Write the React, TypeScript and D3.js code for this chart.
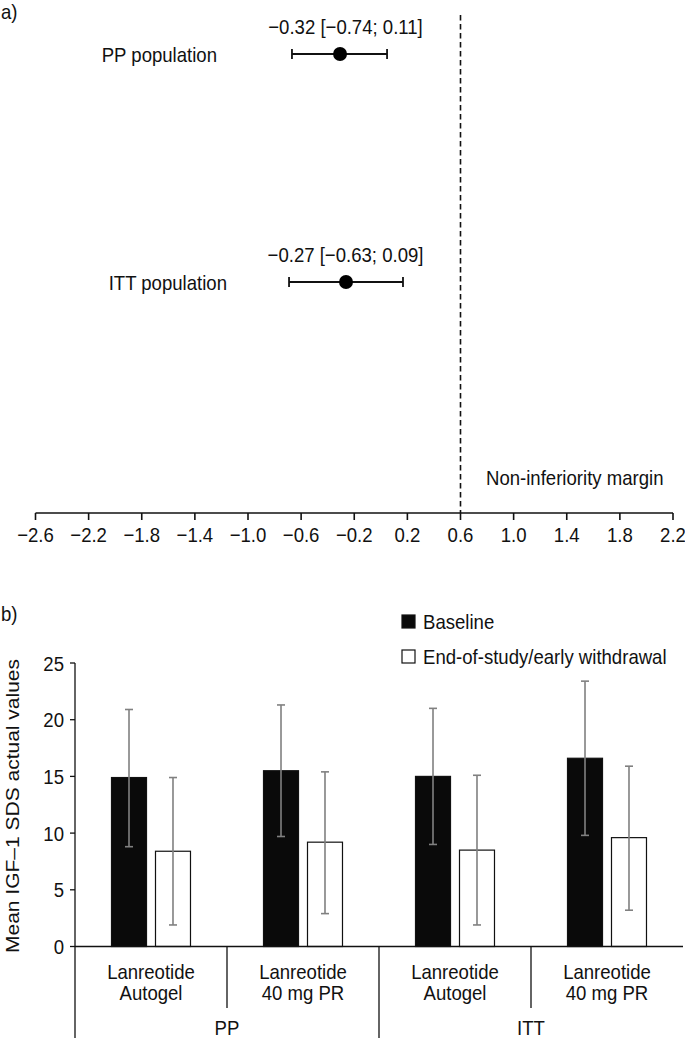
import React from "react";
import * as d3 from "d3";

// ---------- Panel a) forest plot data ----------
const forestLabels = ["PP population", "ITT population"];
const forestCITexts = ["\u22120.32 [\u22120.74; 0.11]", "\u22120.27 [\u22120.63; 0.09]"];
// positions
const forestEst = [-0.307, -0.262];
const forestLow = [-0.669, -0.691];
const forestHigh = [0.047, 0.167];
const forestTicks = [-2.6, -2.2, -1.8, -1.4, -1.0, -0.6, -0.2, 0.2, 0.6, 1.0, 1.4, 1.8, 2.2];
const nonInferiorityMargin = 0.6;

// ---------- Panel b) bar chart data ----------
const subCategories = [
  ["Lanreotide", "Autogel"],
  ["Lanreotide", "40 mg PR"],
  ["Lanreotide", "Autogel"],
  ["Lanreotide", "40 mg PR"],
];
const groups = ["PP", "ITT"];
const seriesNames = ["Baseline", "End-of-study/early withdrawal"];
const baselineMean = [14.9, 15.5, 15.0, 16.6];
const baselineHigh = [20.9, 21.3, 21.0, 23.4];
const baselineLow = [8.8, 9.7, 9.0, 9.8];
const endMean = [8.4, 9.2, 8.5, 9.6];
const endHigh = [14.9, 15.4, 15.1, 15.9];
const endLow = [1.9, 2.9, 1.9, 3.2];
const yTicks = [0, 5, 10, 15, 20, 25];

const FONT = "'Liberation Sans', Arial, Helvetica, sans-serif";
const FS = 21;
const SX = 0.885;

function T({ x, y, anchor = "start", children, size = FS, rotate = 0 }: any) {
  const tr = rotate
    ? `translate(${x},${y}) scale(${SX},1) rotate(${rotate})`
    : `translate(${x},${y}) scale(${SX},1)`;
  return (
    <text transform={tr} textAnchor={anchor} fontFamily={FONT} fontSize={size} fill="#111">
      {children}
    </text>
  );
}

export default function App() {
  const W = 685;
  const H = 1038;

  // forest scales
  const fx = d3.scaleLinear().domain([-2.6, 2.2]).range([35.5, 673]);
  const fy = d3.scaleLinear().domain([0, 1]).range([54, 282]);
  const axisY = 513;
  const labelRight = [217, 227];
  const ciTextX = 345.5;

  // bar scales
  const x0 = d3
    .scaleBand<number>()
    .domain(subCategories.map((_, i) => i))
    .range([75, 683])
    .paddingInner(0)
    .paddingOuter(0);
  const x1 = d3
    .scaleBand<string>()
    .domain(seriesNames)
    .range([0, x0.bandwidth()])
    .paddingInner(0.2045)
    .paddingOuter(0.83);
  const y = d3.scaleLinear().domain([0, 25]).range([946.5, 663]);
  const y0 = y(0);

  const series = [
    { name: seriesNames[0], mean: baselineMean, hi: baselineHigh, lo: baselineLow, fill: "#0a0a0a" },
    { name: seriesNames[1], mean: endMean, hi: endHigh, lo: endLow, fill: "#ffffff" },
  ];

  const capW = 4;

  return (
    <svg
      width={W}
      height={H}
      style={{ position: "absolute", left: 0, top: 0, background: "#fff" }}
    >
      <rect x={0} y={0} width={W} height={H} fill="#fff" />
      {/* ---------------- Panel a ---------------- */}
      <T x={1} y={19}>a)</T>
      {/* dashed margin line */}
      <line
        x1={fx(nonInferiorityMargin)}
        x2={fx(nonInferiorityMargin)}
        y1={15}
        y2={axisY}
        stroke="#111"
        strokeWidth={1.6}
        strokeDasharray="5.5,3.5"
      />
      <T x={486} y={485}>Non-inferiority margin</T>
      {/* axis */}
      <line x1={fx(-2.6)} x2={fx(2.2)} y1={axisY} y2={axisY} stroke="#111" strokeWidth={1.6} />
      {forestTicks.map((t) => (
        <g key={t}>
          <line x1={fx(t)} x2={fx(t)} y1={axisY} y2={axisY + 7} stroke="#111" strokeWidth={1.6} />
          <T x={fx(t)} y={542} anchor="middle">
            {(t < 0 ? "\u2212" : "") + Math.abs(t).toFixed(1)}
          </T>
        </g>
      ))}
      {forestLabels.map((lab, i) => {
        const yy = fy(i);
        return (
          <g key={lab}>
            <T x={labelRight[i]} y={yy + 7.5} anchor="end">{lab}</T>
            <T x={ciTextX} y={yy - 20} anchor="middle">{forestCITexts[i]}</T>
            <line x1={fx(forestLow[i])} x2={fx(forestHigh[i])} y1={yy} y2={yy} stroke="#111" strokeWidth={1.8} />
            <line x1={fx(forestLow[i])} x2={fx(forestLow[i])} y1={yy - 5} y2={yy + 5} stroke="#111" strokeWidth={1.8} />
            <line x1={fx(forestHigh[i])} x2={fx(forestHigh[i])} y1={yy - 5} y2={yy + 5} stroke="#111" strokeWidth={1.8} />
            <circle cx={fx(forestEst[i])} cy={yy} r={7} fill="#000" />
          </g>
        );
      })}

      {/* ---------------- Panel b ---------------- */}
      <T x={1} y={621}>b)</T>
      {/* legend */}
      {seriesNames.map((s, i) => (
        <g key={s}>
          <rect
            x={402}
            y={615 + i * 35}
            width={13}
            height={13}
            fill={i === 0 ? "#0a0a0a" : "#fff"}
            stroke="#111"
            strokeWidth={1.2}
          />
          <T x={423} y={629 + i * 35}>{s}</T>
        </g>
      ))}
      {/* y axis */}
      <line x1={75} x2={75} y1={y(25)} y2={H} stroke="#111" strokeWidth={1.3} />
      {yTicks.map((t) => (
        <g key={t}>
          <line x1={70} x2={75} y1={y(t)} y2={y(t)} stroke="#111" strokeWidth={1.3} />
          <T x={64} y={y(t) + 7.5} anchor="end">{String(t)}</T>
        </g>
      ))}
      <T x={19} y={806} anchor="middle" rotate={-90}>
        Mean IGF{"\u2013"}1 SDS actual values
      </T>
      {/* bars */}
      {subCategories.map((_, ci) =>
        series.map((s) => {
          const bx = (x0(ci) as number) + (x1(s.name) as number);
          const bw = x1.bandwidth();
          return (
            <rect
              key={ci + s.name}
              x={bx}
              y={y(s.mean[ci])}
              width={bw}
              height={y0 - y(s.mean[ci])}
              fill={s.fill}
              stroke="#111"
              strokeWidth={1.2}
            />
          );
        })
      )}
      {/* error bars */}
      {subCategories.map((_, ci) =>
        series.map((s) => {
          const cx = (x0(ci) as number) + (x1(s.name) as number) + x1.bandwidth() / 2;
          return (
            <g key={"e" + ci + s.name} stroke="#808080" strokeWidth={1.6}>
              <line x1={cx} x2={cx} y1={y(s.lo[ci])} y2={y(s.hi[ci])} />
              <line x1={cx - capW} x2={cx + capW} y1={y(s.hi[ci])} y2={y(s.hi[ci])} />
              <line x1={cx - capW} x2={cx + capW} y1={y(s.lo[ci])} y2={y(s.lo[ci])} />
            </g>
          );
        })
      )}
      {/* zero axis */}
      <line x1={75} x2={683} y1={y0} y2={y0} stroke="#111" strokeWidth={1.3} />
      {/* category dividers */}
      {subCategories.map((_, ci) =>
        ci > 0 ? (
          <line
            key={"d" + ci}
            x1={x0(ci) as number}
            x2={x0(ci) as number}
            y1={y0}
            y2={ci === 2 ? H : 1008}
            stroke="#111"
            strokeWidth={1.3}
          />
        ) : null
      )}
      {subCategories.map((lines, ci) => {
        const cx = (x0(ci) as number) + x0.bandwidth() / 2;
        return (
          <g key={"l" + ci}>
            <T x={cx} y={979} anchor="middle">{lines[0]}</T>
            <T x={cx} y={1000} anchor="middle">{lines[1]}</T>
          </g>
        );
      })}
      {groups.map((g, gi) => {
        const start = x0(gi * 2) as number;
        const end = (x0(gi * 2 + 1) as number) + x0.bandwidth();
        return (
          <T key={g} x={(start + end) / 2} y={1035} anchor="middle">{g}</T>
        );
      })}
    </svg>
  );
}
